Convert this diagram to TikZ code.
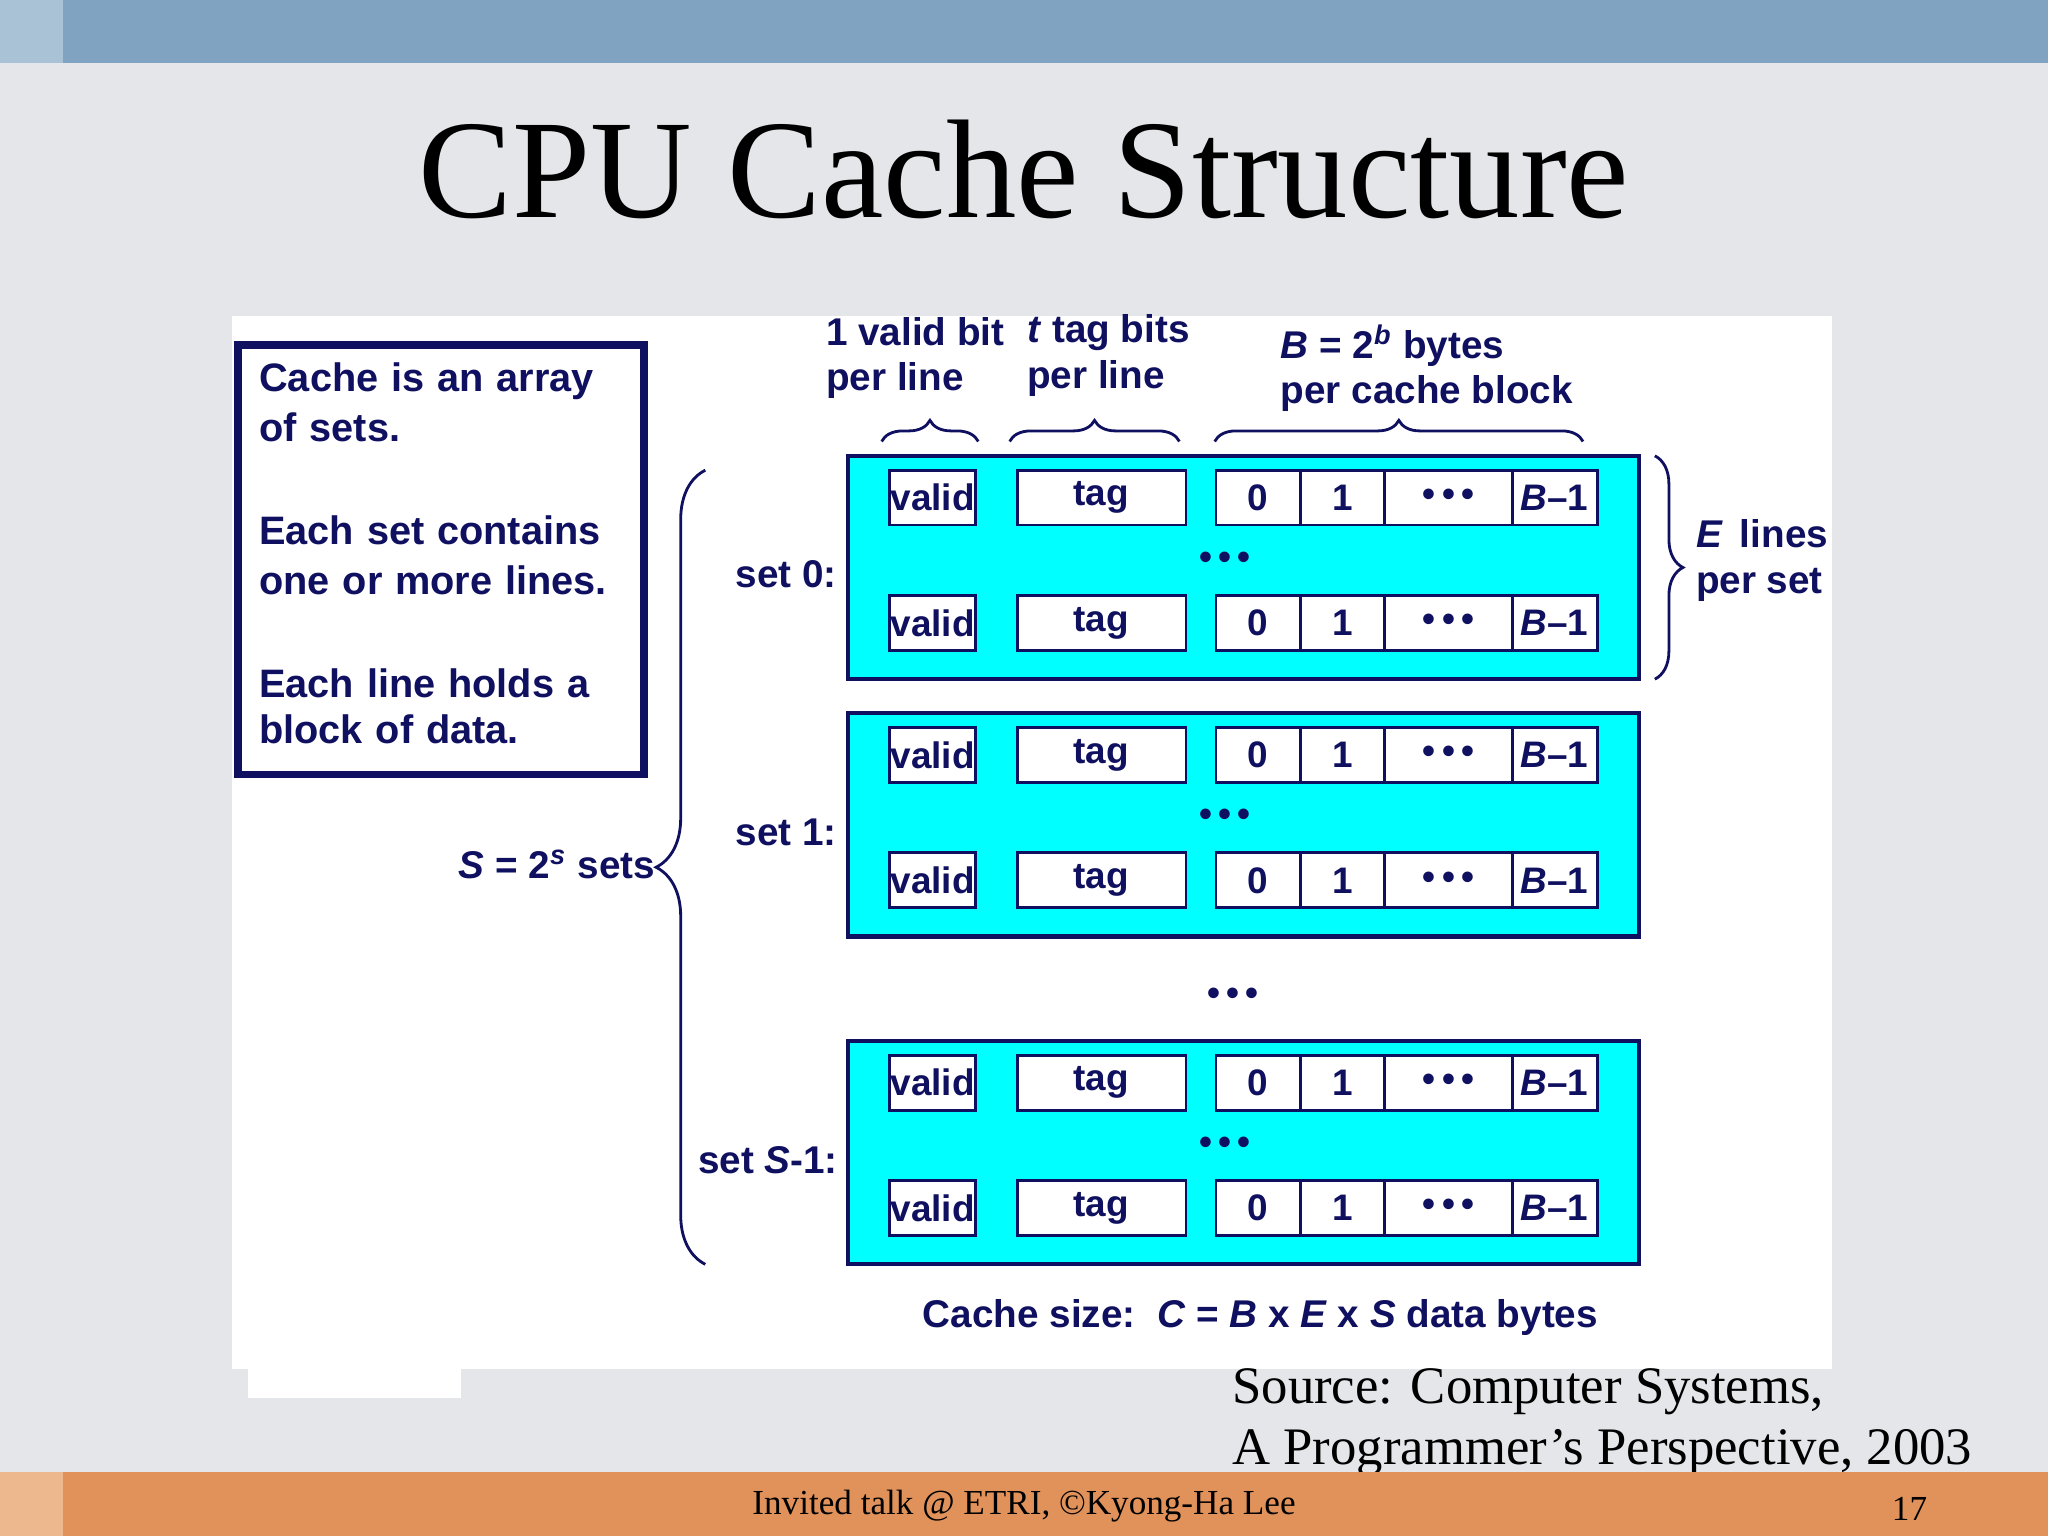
\documentclass[tikz,border=0pt]{standalone}
\usepackage{fontspec}
\setmainfont{Liberation Serif}
\newfontfamily\sans{Liberation Sans}
\usetikzlibrary{decorations.pathreplacing}
\definecolor{navy}{HTML}{101060}
\definecolor{cyanbox}{HTML}{00FFFF}
\definecolor{topbar}{HTML}{7FA3C0}
\definecolor{topsq}{HTML}{A9C2D6}
\definecolor{botbar}{HTML}{E0925A}
\definecolor{botsq}{HTML}{EDB88E}
\definecolor{bg}{HTML}{E4E6EA}
\tikzset{
 txt/.style={font=\sans\fontsize{11}{13}\selectfont\bfseries, text=navy, inner sep=0pt},
 cell/.style={draw=navy, line width=0.8pt, fill=white},
 ctxt/.style={font=\sans\fontsize{10.5}{12}\selectfont\bfseries, text=navy, inner sep=0pt},
 setbox/.style={draw=navy, line width=1.2pt, fill=cyanbox},
 br/.style={draw=navy, line width=0.8pt, decorate},
}
\begin{document}
\begin{tikzpicture}[x=0.013061cm,y=-0.013061cm]
\useasboundingbox (0,0) rectangle (1568,1176);
\fill[bg] (0,0) rectangle (1568,1176);
\fill[topbar] (0,0) rectangle (1568,48);
\fill[topsq] (0,0) rectangle (48,48);
\node[font=\fontsize{40}{44}\selectfont, inner sep=0pt] (title) at (784,130) {CPU Cache Structure};
\fill[white] (178,242) rectangle (1403,1048);
\fill[white] (190,1048) rectangle (353,1070);
% text box
\draw[navy, line width=2.2pt] (182,264) rectangle (493,593);
\node[txt, anchor=north west, align=left, text width=300] (desc) at (198,277)
 {\fontsize{11.3}{14.3}\selectfont Cache is an array\\of sets.\\[15pt]Each set contains\\one or more lines.\\[15pt]Each line holds a\\block of data.};
% sets
\foreach \t/\nm in {349/a,546/b,797/c}{
 \fill[setbox] (649,\t) rectangle (1255,\t+171);
 \foreach \r in {11,107}{
  \draw[cell] (681,\t+\r) rectangle (747,\t+\r+42);
  \node[ctxt] at (714,\t+\r+21) {valid};
  \draw[cell] (779,\t+\r) rectangle (908,\t+\r+42);
  \node[ctxt] at (843,\t+\r+21) {tag};
  \draw[cell] (931,\t+\r) rectangle (1223,\t+\r+42);
  \draw[navy, line width=0.8pt] (996,\t+\r) -- (996,\t+\r+42) (1060,\t+\r) -- (1060,\t+\r+42) (1158,\t+\r) -- (1158,\t+\r+42);
  \node[ctxt] at (963,\t+\r+21) {0};
  \node[ctxt] at (1028,\t+\r+21) {1};
  \node[ctxt] at (1109,\t+\r+21) {\textbullet\,\textbullet\,\textbullet};
  \node[ctxt] at (1190,\t+\r+21) {\textit{B}–1};
 }
 \node[ctxt] at (938,\t+80) {\textbullet\,\textbullet\,\textbullet};
}
\node[txt] (s0) at (602,440) {set 0:};
\node[txt] (s1) at (602,637) {set 1:};
\node[txt] (s2) at (588,888) {set \textit{S}-1:};
\node[ctxt] (md) at (944,763) {\textbullet\,\textbullet\,\textbullet};
% big brace
\draw[br, decoration={brace, amplitude=14pt}] (540,968) -- (540,360);
\node[txt, anchor=east] (S) at (502,662) {\textit{S} = 2\textsuperscript{\textit{s}} sets};
% top labels
\node[txt, align=left, anchor=west] (vb) at (632,274) {1 valid bit\\per line};
\node[txt, align=left, anchor=west] (tb) at (786,272) {\textit{t} tag bits\\per line};
\node[txt, align=left, anchor=west] (bb) at (980,282) {\textit{B} = 2\textsuperscript{\textit{b}} bytes\\per cache block};
\draw[br, decoration={brace, amplitude=6pt}] (675,338) -- (749,338);
\draw[br, decoration={brace, amplitude=6pt}] (773,338) -- (903,338);
\draw[br, decoration={brace, amplitude=6pt}] (930,338) -- (1212,338);
% right brace
\draw[br, decoration={brace, amplitude=8pt}] (1267,349) -- (1267,520);
\node[txt, align=left, anchor=west] (E) at (1298,429) {\textit{E}\, lines\\per set};
\node[txt] (cs) at (965,1009) {Cache size:\ \ \textit{C} = \textit{B} x \textit{E} x \textit{S} data bytes};
% source
\node[anchor=west, align=left, font=\fontsize{15}{17.3}\selectfont, inner sep=0pt] (src) at (943,1089) {Source: Computer Systems,\\A Programmer’s Perspective, 2003};
% bottom bar
\fill[botbar] (0,1127) rectangle (1568,1176);
\fill[botsq] (0,1127) rectangle (48,1176);
\node[font=\fontsize{10}{12}\selectfont, inner sep=0pt] (ft) at (784,1153) {Invited talk @ ETRI, ©Kyong-Ha Lee};
\node[font=\fontsize{10}{12}\selectfont, inner sep=0pt] (pg) at (1462,1155) {17};
\end{tikzpicture}
\end{document}
